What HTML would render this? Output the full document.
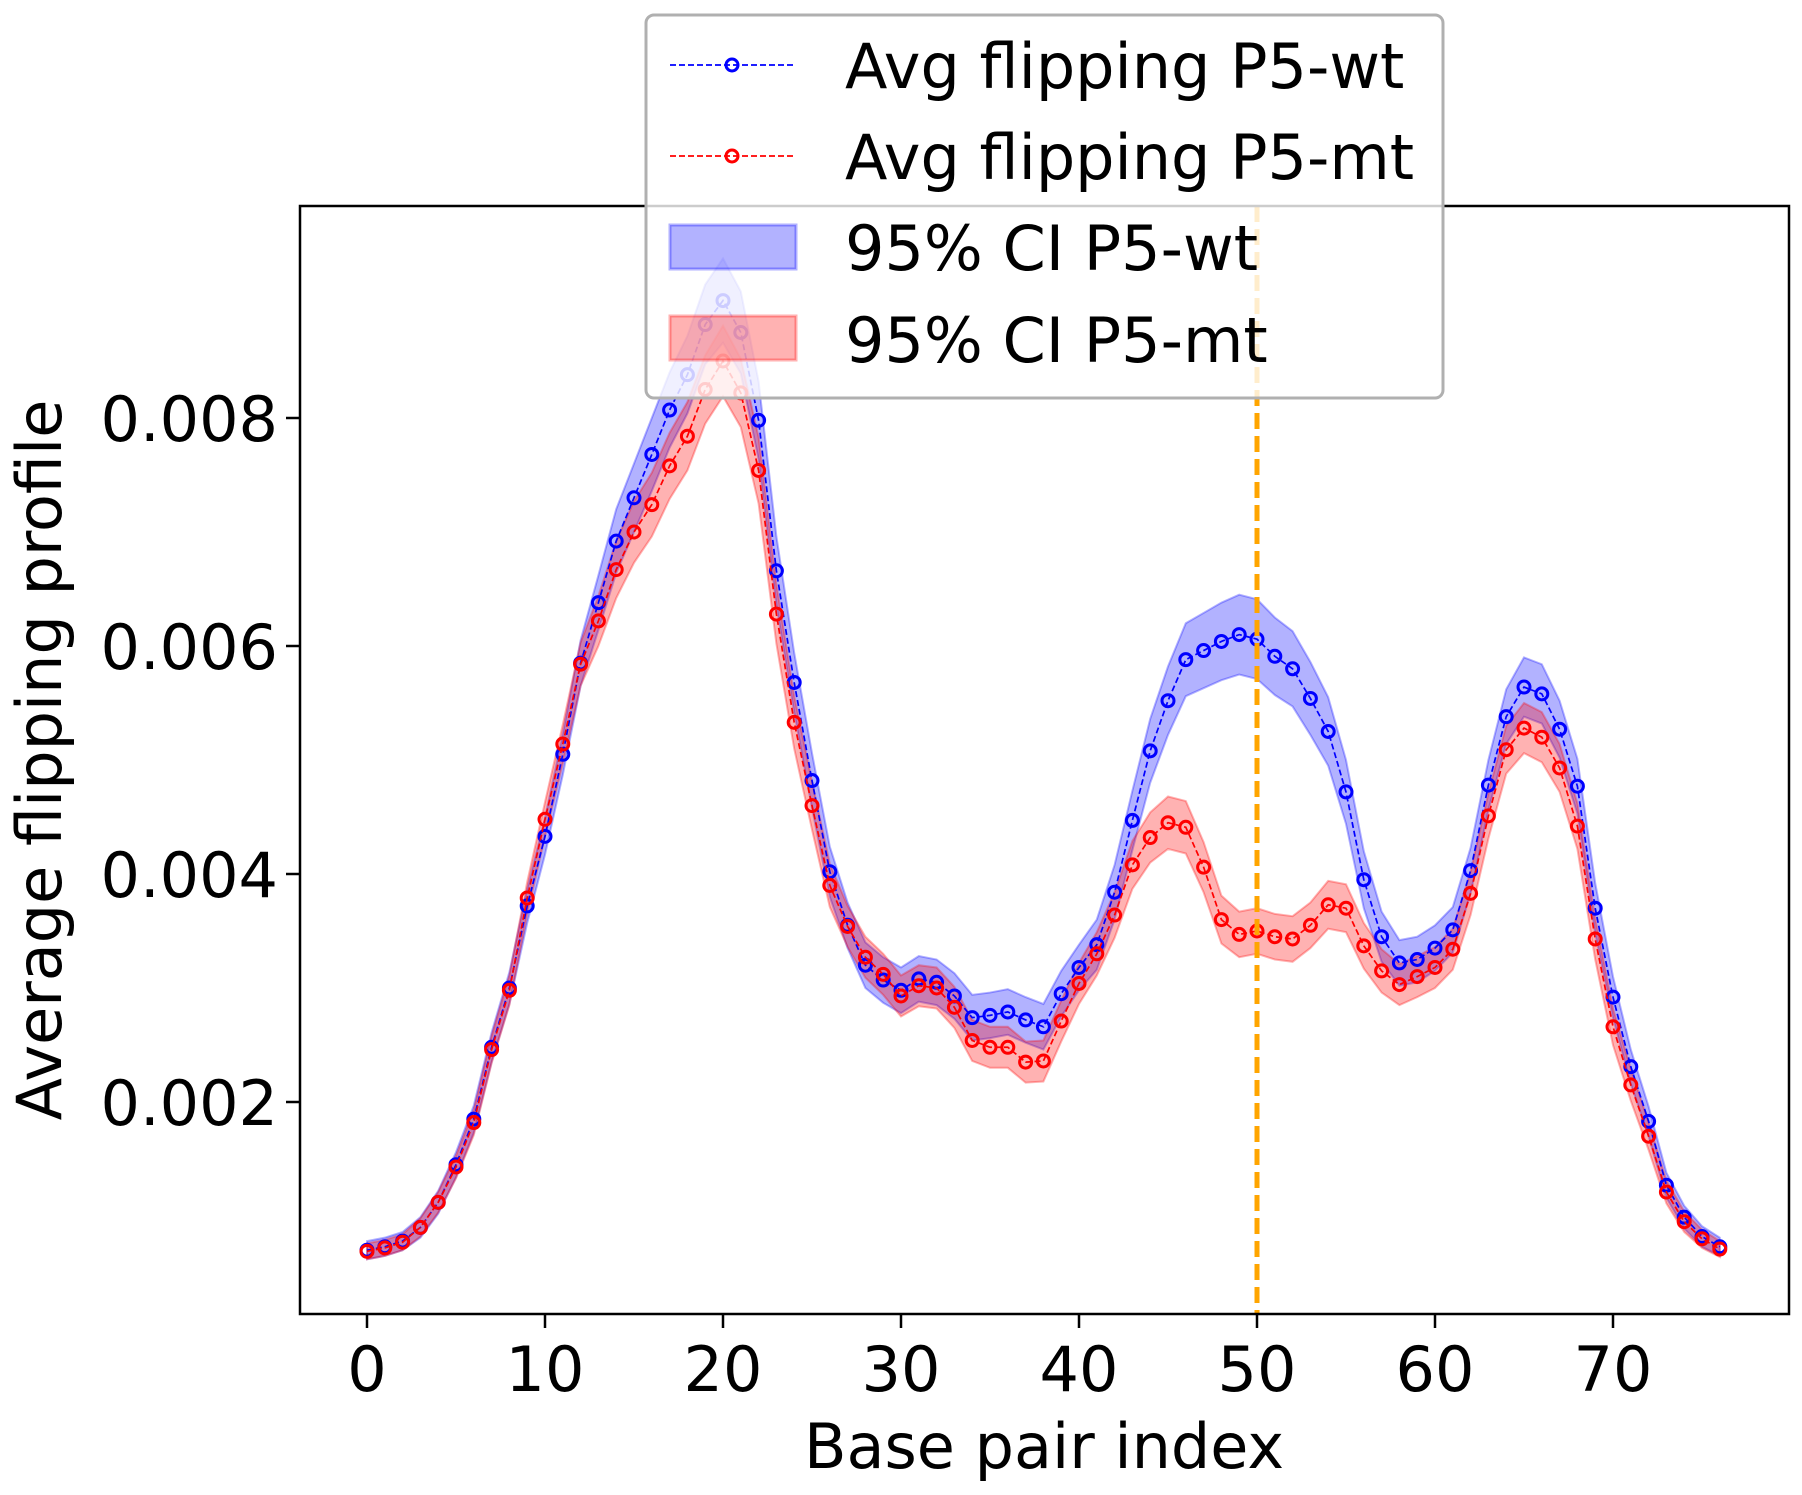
<!DOCTYPE html>
<html><head><meta charset="utf-8"><style>
html,body{margin:0;padding:0;background:#fff;}
svg{display:block;font-family:"DejaVu Sans","Liberation Sans",sans-serif;}
</style></head><body>
<svg id="chart" width="1802" height="1495" viewBox="0 0 1802 1495">
<g id="plot"></g>
<g id="axes"></g>
<g id="legend"></g>
</svg>
<script>
const xIdx = Array.from({length:77},(_,i)=>i);
const wtMean = [0.00070,0.00073,0.00078,0.00090,0.00112,0.00145,0.00185,0.00248,0.00300,0.00372,0.00433,0.00505,0.00585,0.00638,0.00692,0.00730,0.00768,0.00807,0.00838,0.00882,0.00903,0.00875,0.00798,0.00666,0.00568,0.00482,0.00402,0.00355,0.00320,0.00307,0.00298,0.00308,0.00305,0.00293,0.00274,0.00276,0.00279,0.00272,0.00266,0.00295,0.00318,0.00338,0.00384,0.00447,0.00508,0.00552,0.00588,0.00596,0.00604,0.00610,0.00606,0.00591,0.00580,0.00554,0.00525,0.00472,0.00395,0.00345,0.00322,0.00325,0.00335,0.00351,0.00403,0.00478,0.00538,0.00564,0.00558,0.00527,0.00477,0.00370,0.00292,0.00231,0.00183,0.00127,0.00099,0.00082,0.00073];
const mtMean = [0.00069,0.00072,0.00077,0.00090,0.00112,0.00143,0.00182,0.00246,0.00298,0.00379,0.00448,0.00514,0.00584,0.00622,0.00667,0.00700,0.00724,0.00758,0.00784,0.00825,0.00850,0.00822,0.00754,0.00628,0.00533,0.00460,0.00390,0.00354,0.00327,0.00312,0.00293,0.00302,0.00300,0.00283,0.00254,0.00248,0.00248,0.00235,0.00236,0.00271,0.00304,0.00330,0.00364,0.00408,0.00432,0.00445,0.00441,0.00406,0.00360,0.00347,0.00350,0.00345,0.00343,0.00355,0.00373,0.00370,0.00337,0.00315,0.00303,0.00310,0.00318,0.00334,0.00383,0.00451,0.00509,0.00528,0.00520,0.00493,0.00442,0.00343,0.00266,0.00215,0.00170,0.00121,0.00095,0.00080,0.00071];
const wtCI = [0.00008,0.00008,0.00008,0.00009,0.0001,0.00011,0.00012,0.00013,0.00014,0.00015,0.00016,0.00018,0.0002,0.00024,0.00028,0.0003,0.00032,0.00033,0.00034,0.00035,0.00037,0.00036,0.00034,0.0003,0.00026,0.00024,0.00022,0.0002,0.0002,0.0002,0.0002,0.0002,0.0002,0.0002,0.0002,0.0002,0.0002,0.0002,0.0002,0.0002,0.0002,0.00022,0.00024,0.00026,0.00028,0.0003,0.00032,0.00033,0.00034,0.00035,0.00035,0.00034,0.00033,0.00032,0.0003,0.00028,0.00025,0.00022,0.0002,0.0002,0.0002,0.0002,0.0002,0.00022,0.00024,0.00026,0.00026,0.00025,0.00024,0.00022,0.00018,0.00015,0.00013,0.00011,0.0001,0.00009,0.00008];
const mtCI = [0.00007,0.00007,0.00007,0.00008,0.00009,0.0001,0.00011,0.00012,0.00013,0.00014,0.00015,0.00017,0.00019,0.00022,0.00025,0.00027,0.00028,0.00029,0.0003,0.0003,0.00031,0.0003,0.00029,0.00026,0.00023,0.00021,0.00019,0.00018,0.00018,0.00018,0.00018,0.00018,0.00018,0.00018,0.00018,0.00018,0.00018,0.00018,0.00018,0.00018,0.00018,0.00019,0.0002,0.00021,0.00022,0.00023,0.00023,0.00022,0.00021,0.0002,0.0002,0.0002,0.0002,0.0002,0.00021,0.00021,0.0002,0.00019,0.00018,0.00018,0.00018,0.00018,0.00019,0.0002,0.00021,0.00022,0.00022,0.00021,0.0002,0.00018,0.00016,0.00014,0.00012,0.0001,0.00009,0.00008,0.00007];
const xTicks = [0,10,20,30,40,50,60,70];
const yTicks = [0.002,0.004,0.006,0.008];
const yTickLabels = ["0.002","0.004","0.006","0.008"];
const vlineX = 50;

const NS="http://www.w3.org/2000/svg";
const L=300,R=1789,T=206,B=1314;
function sx(v){return 367+v*17.8;}
function sy(v){return 1102-(v-0.002)*114000;}
function mk(tag,attrs,parent){const e=document.createElementNS(NS,tag);for(const k in attrs)e.setAttribute(k,attrs[k]);parent.appendChild(e);return e;}
const plot=document.getElementById('plot'),axes=document.getElementById('axes'),legend=document.getElementById('legend');

function band(mean,ci,color,name){
  let d="M"+xIdx.map((x,i)=>sx(x)+","+sy(mean[i]+ci[i])).join(" L");
  d+=" L"+xIdx.slice().reverse().map(x=>sx(x)+","+sy(mean[x]-ci[x])).join(" L")+"Z";
  const p=mk('path',{d:d,fill:color,'fill-opacity':0.3,stroke:color,'stroke-opacity':0.3,'stroke-width':2},plot);
  
  
}
function series(mean,color,name){
  const g=mk('g',{},plot);
  
  
  mk('polyline',{points:xIdx.map((x,i)=>sx(x)+","+sy(mean[i])).join(" "),fill:'none',stroke:color,'stroke-width':1.7,'stroke-dasharray':'6,3'},g);
  xIdx.forEach((x,i)=>{
    const c=mk('circle',{cx:sx(x),cy:sy(mean[i]),r:6,fill:'none',stroke:color,'stroke-width':3},g);
    
    
  });
}
band(wtMean,wtCI,'#0000ff','ci-band-wt');
band(mtMean,mtCI,'#ff0000','ci-band-mt');
series(wtMean,'#0000ff','series-wt');
series(mtMean,'#ff0000','series-mt');
const vl=mk('line',{x1:sx(vlineX),x2:sx(vlineX),y1:T,y2:B,stroke:'#ffa500','stroke-width':5,'stroke-dasharray':'16,7'},plot);



const fr=mk('rect',{x:L,y:T,width:R-L,height:B-T,fill:'none',stroke:'#000','stroke-width':2.5},axes);


xTicks.forEach(v=>{
  mk('line',{x1:sx(v),x2:sx(v),y1:B,y2:B+14,stroke:'#000','stroke-width':2.5},axes);
  const t=mk('text',{x:sx(v),y:B+77,'text-anchor':'middle','font-size':62,fill:'#000'},axes);
  t.textContent=v;
  
  
});
yTicks.forEach((v,i)=>{
  mk('line',{x1:L-14,x2:L,y1:sy(v),y2:sy(v),stroke:'#000','stroke-width':2.5},axes);
  const t=mk('text',{x:L-22,y:sy(v)+23,'text-anchor':'end','font-size':62,fill:'#000'},axes);
  t.textContent=yTickLabels[i];
  
  
});
const xl=mk('text',{x:1044,y:1468,'text-anchor':'middle','font-size':62,fill:'#000'},axes);
xl.textContent='Base pair index';


const yl=mk('text',{x:0,y:0,'text-anchor':'middle','font-size':62,fill:'#000',transform:'translate(61,760) rotate(-90)'},axes);
yl.textContent='Average flipping profile';



const lb=mk('rect',{x:646,y:15,width:797,height:383,rx:8,fill:'#fff','fill-opacity':0.8,stroke:'#b0b0b0','stroke-width':3},legend);


const entries=[['Avg flipping P5-wt','#0000ff','line',65,88],['Avg flipping P5-mt','#ff0000','line',156,179],['95% CI P5-wt','#0000ff','patch',247,270],['95% CI P5-mt','#ff0000','patch',338,362]];
entries.forEach(e=>{
  const g=mk('g',{},legend);
  
  
  if(e[2]==='line'){
    mk('line',{x1:670,x2:795,y1:e[3],y2:e[3],stroke:e[1],'stroke-width':1.7,'stroke-dasharray':'6,3'},g);
    mk('circle',{cx:732,cy:e[3],r:6,fill:'none',stroke:e[1],'stroke-width':3},g);
  } else {
    mk('rect',{x:670,y:e[3]-22,width:126,height:44,fill:e[1],'fill-opacity':0.3,stroke:e[1],'stroke-opacity':0.3,'stroke-width':3},g);
  }
  const t=mk('text',{x:845,y:e[4],'font-size':62,fill:'#000'},g);
  t.textContent=e[0];
});
</script>
</body></html>
